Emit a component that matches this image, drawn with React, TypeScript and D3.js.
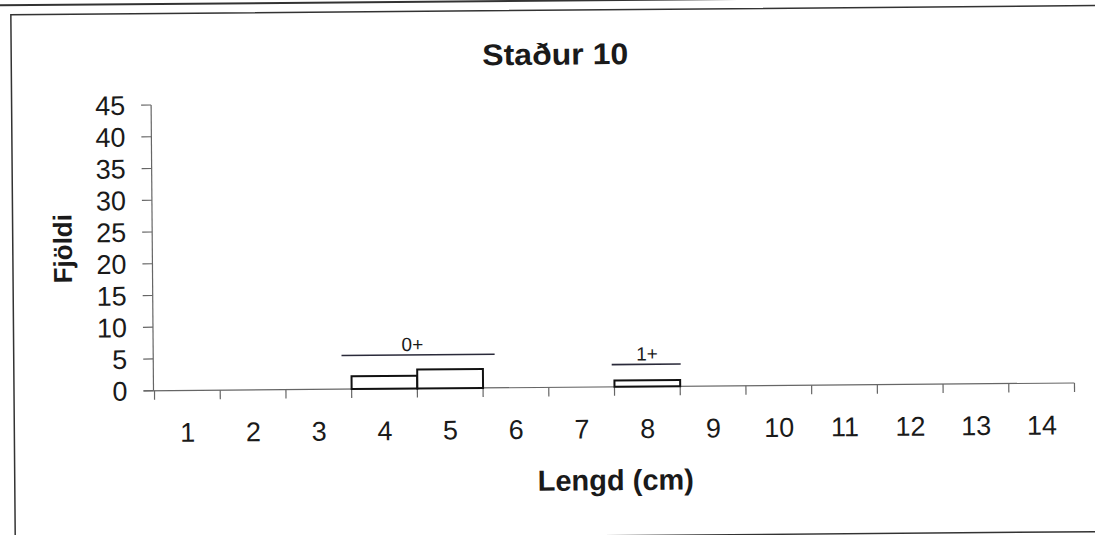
import React from "react";
import * as d3 from "d3";

// ---- data ----
const categories = ["1", "2", "3", "4", "5", "6", "7", "8", "9", "10", "11", "12", "13", "14"];
const counts = [0, 0, 0, 2, 3, 0, 0, 1, 0, 0, 0, 0, 0, 0];
const yTicks = [0, 5, 10, 15, 20, 25, 30, 35, 40, 45];
const groupLabels = ["0+", "1+"];
const groupStart = [3.35, 7.46];
const groupEnd = [5.68, 8.51];
const groupLevel = [5.3, 3.5];
const groupLabelPos = [4.43, 8.0];

const title = "Staður 10";
const xTitle = "Lengd (cm)";
const yTitle = "Fjöldi";

const W = 1095;
const H = 535;
const font = "Arial, 'Liberation Sans', Helvetica, sans-serif";

export default function App() {
  const x0 = 154.5;
  const x1 = 1074.5;
  const yBottom = 390.7;
  const yTop = 105;

  const xBand = d3.scaleBand<string>().domain(categories).range([x0, x1]).paddingInner(0).paddingOuter(0);
  const xLin = d3.scaleLinear().domain([0.5, categories.length + 0.5]).range([x0, x1]);
  const y = d3.scaleLinear().domain([0, 45]).range([yBottom, yTop]);

  const bw = xBand.bandwidth();
  const boundaries = d3.range(categories.length + 1).map((i) => x0 + i * bw);

  const ink = "#1a1a1a";

  return (
    <svg
      width={W}
      height={H}
      viewBox={`0 0 ${W} ${H}`}
      style={{ position: "absolute", left: 0, top: 0, background: "#fff" }}
    >
      <rect x={0} y={0} width={W} height={H} fill="#fff" />
      <g transform={`rotate(-0.48, ${x0}, ${yBottom})`}>
        {/* upper neighbouring chart border */}
        <line x1={-10} x2={740} y1={4} y2={4} stroke="#333" strokeWidth={2} />
        {/* frame */}
        <rect x={14} y={13.5} width={1120} height={526} fill="none" stroke="#333" strokeWidth={1.5} />

        {/* title */}
        <text x={558} y={68} textAnchor="middle" fontFamily={font} fontWeight="bold" fontSize={30} fill={ink} textLength={146} lengthAdjust="spacingAndGlyphs">
          {title}
        </text>

        {/* y axis */}
        <line x1={x0 - 1} x2={x0 - 1} y1={yTop} y2={yBottom} stroke="#666" strokeWidth={1.2} />
        {yTicks.map((t) => (
          <g key={t}>
            <line x1={x0 - 11} x2={x0 - 1} y1={y(t)} y2={y(t)} stroke="#666" strokeWidth={1.2} />
            <text
              x={127.5}
              y={y(t)}
              dy="0.36em"
              textAnchor="end"
              fontFamily={font}
              fontSize={27}
              fill={ink}
            >
              {t}
            </text>
          </g>
        ))}

        {/* x axis */}
        <line x1={x0 - 11} x2={x1} y1={yBottom} y2={yBottom} stroke="#666" strokeWidth={1.2} />
        {boundaries.map((b, i) => (
          <line key={i} x1={b} x2={b} y1={yBottom} y2={yBottom + 9} stroke="#666" strokeWidth={1.2} />
        ))}
        {categories.map((c) => (
          <text
            key={c}
            x={(xBand(c) as number) + bw / 2}
            y={442}
            textAnchor="middle"
            fontFamily={font}
            fontSize={27}
            fill={ink}
          >
            {c}
          </text>
        ))}

        {/* bars */}
        {categories.map((c, i) =>
          counts[i] > 0 ? (
            <rect
              key={c}
              x={xBand(c) as number}
              y={y(counts[i])}
              width={bw}
              height={yBottom - y(counts[i])}
              fill="#fff"
              stroke="#111"
              strokeWidth={2}
            />
          ) : null
        )}

        {/* age group annotations */}
        {groupLabels.map((g, i) => (
          <g key={g}>
            <line
              x1={xLin(groupStart[i])}
              x2={xLin(groupEnd[i])}
              y1={y(groupLevel[i])}
              y2={y(groupLevel[i])}
              stroke="#2a2a3a"
              strokeWidth={1.6}
            />
            <text
              x={xLin(groupLabelPos[i])}
              y={y(groupLevel[i]) - 4}
              textAnchor="middle"
              fontFamily={font}
              fontSize={19}
              fill={ink}
            >
              {g}
            </text>
          </g>
        ))}

        {/* axis titles */}
        <text x={615} y={494} textAnchor="middle" fontFamily={font} fontWeight="bold" fontSize={29} fill={ink}>
          {xTitle}
        </text>
        <text
          transform={`translate(73, 248) rotate(-90)`}
          textAnchor="middle"
          fontFamily={font}
          fontWeight="bold"
          fontSize={26}
          fill={ink}
        >
          {yTitle}
        </text>
      </g>
    </svg>
  );
}
